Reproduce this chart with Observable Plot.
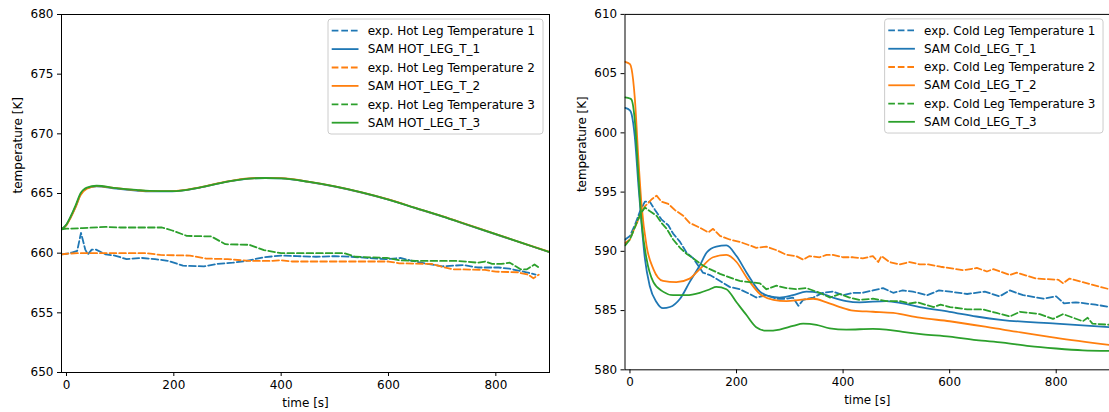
<!DOCTYPE html>
<html>
<head>
<meta charset="utf-8">
<script src="https://cdn.jsdelivr.net/npm/d3@7"></script>
<script src="https://cdn.jsdelivr.net/npm/@observablehq/plot@0.6"></script>
<style>
  html, body { margin: 0; padding: 0; background: white; overflow: hidden; }
  #wrap { position: relative; width: 1109px; height: 412px; overflow: hidden; background: white; }
  #left { position: absolute; left: 0; top: 0; }
  #right { position: absolute; left: 555px; top: 0; }
</style>
</head>
<body>
<div id="wrap"><div id="left"></div><div id="right"></div></div>
<script>
// ---- tick values ----
const xTicks = [0, 200, 400, 600, 800];
const hotYTicks = [650, 655, 660, 665, 670, 675, 680];
const coldYTicks = [580, 585, 590, 595, 600, 605, 610];
const xDomain = [-9.3, 900];

// ---- labels ----
const hotLabels = ["exp. Hot Leg Temperature 1", "SAM HOT_LEG_T_1", "exp. Hot Leg Temperature 2", "SAM HOT_LEG_T_2", "exp. Hot Leg Temperature 3", "SAM HOT_LEG_T_3"];
const coldLabels = ["exp. Cold Leg Temperature 1", "SAM Cold_LEG_T_1", "exp. Cold Leg Temperature 2", "SAM Cold_LEG_T_2", "exp. Cold Leg Temperature 3", "SAM Cold_LEG_T_3"];
const colors = ["#1f77b4", "#1f77b4", "#ff7f0e", "#ff7f0e", "#2ca02c", "#2ca02c"];
const dashed = [true, false, true, false, true, false];

// ---- hot leg data [time s, temperature K] ----
const hotExp1 = [[-9,659.9],[0,659.95],[10,660.05],[20,660.2],[27,661.7],[35,660.3],[40,659.9],[47,660.3],[55,660.3],[73,659.9],[90,659.8],[112,659.5],[139,659.6],[165,659.5],[190,659.35],[217,658.95],[256,658.9],[282,659.1],[310,659.2],[335,659.35],[367,659.65],[400,659.8],[430,659.75],[465,659.7],[500,659.75],[531,659.7],[560,659.6],[596,659.5],[622,659.6],[640,659.4],[661,659.2],[700,658.9],[740,659.0],[766,658.8],[805,658.8],[825,658.7],[857,658.4],[874,658.2]];
const hotSam1 = [[-9,662.0],[0,662.4],[7,662.95],[17,663.9],[26,664.9],[38,665.45],[56,665.6],[93,665.4],[130,665.25],[155,665.17],[197,665.18],[247,665.48],[300,666.0],[340,666.25],[370,666.3],[400,666.26],[450,665.98],[500,665.58],[550,665.08],[600,664.48],[650,663.78],[700,663.08],[750,662.33],[800,661.58],[850,660.83],[900,660.08]];
const hotExp2 = [[-9,659.9],[0,659.95],[20,660.0],[60,660.0],[100,660.0],[150,660.0],[175,659.85],[230,659.8],[260,659.55],[300,659.5],[340,659.35],[380,659.35],[400,659.4],[420,659.3],[500,659.3],[600,659.3],[620,659.15],[680,659.1],[700,658.85],[720,658.65],[780,658.6],[800,658.45],[840,658.4],[860,658.2],[870,657.9],[880,658.2]];
const hotSam2 = [[-9,662.0],[0,662.35],[7,662.9],[17,663.85],[26,664.85],[38,665.4],[56,665.62],[93,665.45],[130,665.28],[155,665.2],[197,665.2],[247,665.5],[300,666.02],[340,666.27],[370,666.31],[400,666.28],[450,666.0],[500,665.6],[550,665.1],[600,664.5],[650,663.8],[700,663.1],[750,662.35],[800,661.6],[850,660.85],[900,660.1]];
const hotExp3 = [[-9,662.0],[0,662.05],[30,662.1],[73,662.2],[100,662.15],[178,662.15],[197,661.9],[224,661.45],[270,661.4],[296,660.75],[341,660.7],[368,660.25],[400,660.0],[518,660.0],[538,659.7],[597,659.6],[622,659.4],[650,659.35],[728,659.35],[767,659.2],[780,659.3],[793,659.1],[810,659.1],[826,659.2],[846,658.65],[858,658.65],[872,659.05],[880,658.8]];
const hotSam3 = [[-9,662.0],[0,662.4],[7,663.0],[17,664.0],[26,665.0],[38,665.5],[56,665.65],[93,665.45],[130,665.3],[155,665.22],[197,665.2],[247,665.5],[300,666.0],[340,666.25],[370,666.3],[400,666.27],[450,665.99],[500,665.59],[550,665.09],[600,664.49],[650,663.79],[700,663.09],[750,662.34],[800,661.59],[850,660.84],[900,660.09]];

// ---- cold leg data [time s, temperature K] ----
const coldExp1 = [[-9,591.0],[0,591.3],[9,592.2],[19,593.4],[28,594.2],[37,594.2],[47,593.5],[59,592.7],[72,592.2],[81,591.5],[94,590.8],[106,589.9],[119,589.4],[137,588.2],[150,588.0],[169,587.5],[187,587.0],[206,586.8],[225,586.4],[237,586.1],[256,586.3],[275,586.0],[294,586.0],[306,586.1],[316,585.4],[325,585.9],[344,586.1],[362,586.5],[381,586.6],[400,586.3],[419,586.5],[437,586.5],[456,586.7],[475,586.9],[494,586.5],[512,586.7],[531,586.6],[558,586.3],[580,586.7],[601,586.6],[633,586.4],[666,586.6],[694,586.2],[713,586.7],[738,586.3],[776,586.0],[800,586.2],[815,585.6],[837,585.7],[874,585.5],[900,585.3]];
const coldSam1 = [[-9,602.1],[0,601.9],[3,601.6],[9,599.7],[16,595.5],[22,592.2],[28,589.4],[37,587.1],[50,585.7],[62,585.2],[75,585.3],[94,586.0],[112,587.4],[131,588.8],[144,589.9],[162,590.4],[181,590.5],[200,589.6],[219,588.2],[244,586.6],[262,586.2],[281,586.1],[306,586.3],[331,586.6],[356,586.5],[381,586.1],[406,585.8],[431,585.7],[481,585.8],[512,585.6],[544,585.3],[600,584.9],[650,584.5],[700,584.2],[800,583.9],[900,583.6]];
const coldExp2 = [[-9,590.7],[0,591.0],[9,592.0],[19,593.0],[28,593.8],[41,594.4],[50,594.7],[59,594.2],[72,594.0],[84,593.5],[100,593.0],[112,592.4],[131,592.0],[147,591.6],[156,591.9],[169,591.3],[187,591.0],[206,590.8],[225,590.5],[237,590.3],[256,590.4],[275,590.1],[294,589.7],[312,589.6],[325,589.3],[337,589.6],[356,589.5],[369,589.7],[381,589.7],[400,589.5],[419,589.5],[437,589.4],[456,589.6],[466,589.1],[472,589.6],[487,589.1],[506,588.9],[525,589.1],[544,588.9],[560,588.9],[583,588.7],[626,588.4],[651,588.6],[670,588.3],[682,588.5],[713,588.0],[726,588.2],[763,587.7],[804,587.6],[813,587.3],[825,587.7],[850,587.4],[874,587.1],[900,586.8]];
const coldSam2 = [[-9,606.0],[0,605.8],[3,605.4],[9,603.0],[16,597.7],[22,593.8],[31,590.5],[44,588.5],[62,587.5],[87,587.4],[112,587.7],[131,588.5],[156,589.5],[181,589.7],[200,589.1],[219,587.8],[244,586.4],[269,585.9],[294,585.8],[319,585.9],[344,586.0],[369,585.7],[394,585.3],[419,585.0],[456,584.9],[494,584.8],[544,584.4],[600,584.1],[700,583.4],[800,582.7],[900,582.1]];
const coldExp3 = [[-9,590.5],[0,591.0],[9,592.0],[19,593.1],[28,593.7],[37,593.4],[50,593.0],[59,592.4],[69,591.9],[81,591.0],[94,590.3],[106,589.8],[119,589.4],[137,588.8],[150,588.5],[169,588.1],[187,587.8],[206,587.5],[225,587.4],[244,587.3],[256,586.8],[275,587.1],[294,586.9],[312,586.8],[331,586.9],[356,586.5],[375,586.1],[394,586.4],[412,586.1],[431,585.9],[456,586.0],[481,585.8],[506,585.8],[525,585.6],[539,585.7],[570,585.3],[583,585.5],[601,585.3],[633,585.1],[663,585.1],[688,584.8],[713,584.5],[732,584.9],[769,584.7],[794,584.3],[813,584.7],[850,584.1],[859,584.4],[868,583.9],[900,583.8]];
const coldSam3 = [[-9,603.0],[0,602.9],[3,602.8],[9,601.1],[16,596.3],[22,592.4],[31,589.4],[44,587.4],[62,586.6],[81,586.3],[106,586.3],[131,586.5],[150,586.8],[162,587.0],[181,586.8],[200,585.7],[219,584.6],[237,583.6],[256,583.3],[281,583.4],[306,583.7],[325,583.9],[350,583.8],[375,583.5],[406,583.4],[456,583.45],[481,583.4],[512,583.2],[550,583.0],[600,582.8],[650,582.5],[700,582.3],[750,582.0],[800,581.8],[850,581.65],[900,581.6]];

const hotSeries = [hotExp1, hotSam1, hotExp2, hotSam2, hotExp3, hotSam3];
const coldSeries = [coldExp1, coldSam1, coldExp2, coldSam2, coldExp3, coldSam3];

const FONT = "'DejaVu Sans', sans-serif";
const DASH = "6.7,2.9";
const LW = 1.8;

function makePanel({series, labels, yDomain, yTicks, width, marginLeft, marginRight, legendWidth}) {
  const marks = [];
  series.forEach((data, i) => {
    marks.push(Plot.line(data, {
      x: d => d[0], y: d => d[1],
      stroke: colors[i], strokeWidth: LW,
      strokeDasharray: dashed[i] ? DASH : null,
      curve: dashed[i] ? "linear" : "monotone-x",
      strokeLinejoin: "round",
      clip: true
    }));
  });
  marks.push(Plot.frame({stroke: "black", strokeWidth: 1}));
  marks.push(Plot.axisX({ticks: xTicks, tickSize: 4, tickPadding: 4, label: null, fontSize: 12, tickFormat: d => String(d)}));
  marks.push(Plot.axisY({ticks: yTicks, tickSize: 4, tickPadding: 4, label: null, fontSize: 12, tickFormat: d => String(d)}));
  marks.push(Plot.text(["time [s]"], {frameAnchor: "bottom", dy: 34, text: d => d, fontSize: 12, fill: "black"}));
  marks.push(Plot.text(["temperature [K]"], {frameAnchor: "left", dx: -43, rotate: -90, text: d => d, fontSize: 12, fill: "black"}));

  const svg = Plot.plot({
    width, height: 412,
    marginLeft, marginRight, marginTop: 14, marginBottom: 40,
    x: {domain: xDomain},
    y: {domain: yDomain},
    style: {fontFamily: FONT, fontSize: "12px", color: "black", background: "white", overflow: "visible"},
    marks
  });

  // legend inside the frame, upper right
  const frameRight = width - marginRight;
  const boxX = frameRight - 6 - legendWidth;
  const boxY = 19;
  const rowH = 18.4;
  const g = d3.select(svg).append("g")
    .attr("font-family", FONT).attr("font-size", 12)
    .attr("text-anchor", "start");
  g.append("rect")
    .attr("x", boxX).attr("y", boxY)
    .attr("width", legendWidth).attr("height", 115)
    .attr("rx", 3).attr("ry", 3)
    .attr("fill", "white").attr("fill-opacity", 0.8)
    .attr("stroke", "#cccccc").attr("stroke-width", 1);
  labels.forEach((lab, i) => {
    const cy = boxY + 11.7 + i * rowH;
    g.append("line")
      .attr("x1", boxX + 3.7).attr("x2", boxX + 30.5)
      .attr("y1", cy).attr("y2", cy)
      .attr("stroke", colors[i]).attr("stroke-width", LW)
      .attr("stroke-dasharray", dashed[i] ? DASH : null);
    g.append("text")
      .attr("x", boxX + 39.7).attr("y", cy)
      .attr("dy", "0.35em")
      .attr("text-anchor", "start")
      .attr("fill", "black")
      .text(lab);
  });
  return svg;
}

document.getElementById("left").appendChild(makePanel({
  series: hotSeries, labels: hotLabels, yDomain: [650, 680], yTicks: hotYTicks,
  width: 555, marginLeft: 61, marginRight: 6, legendWidth: 215
}));
document.getElementById("right").appendChild(makePanel({
  series: coldSeries, labels: coldLabels, yDomain: [580, 610], yTicks: coldYTicks,
  width: 558, marginLeft: 70, marginRight: 0, legendWidth: 220
}));
</script>
</body>
</html>
